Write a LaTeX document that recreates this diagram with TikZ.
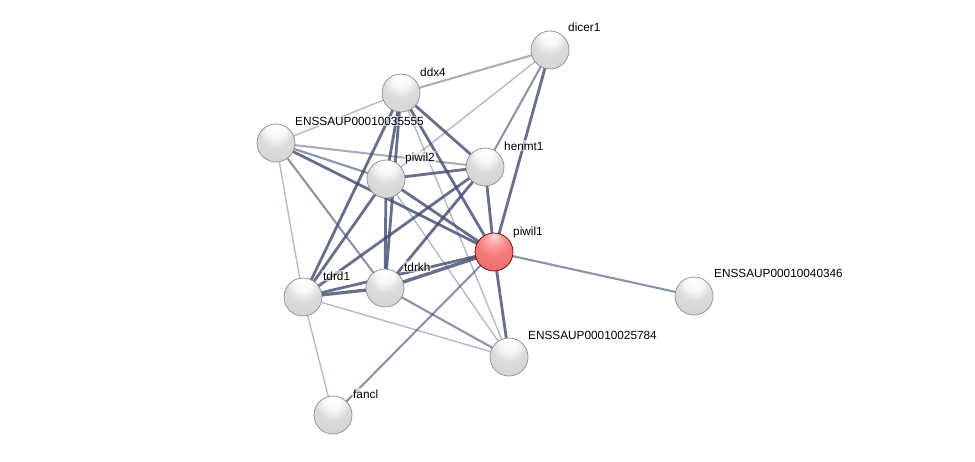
\documentclass[tikz,border=0pt]{standalone}
\usepackage{fontspec}
\setmainfont{Liberation Sans}
\usetikzlibrary{backgrounds}
\definecolor{edgec}{RGB}{65,75,110}
\pgfdeclareradialshading{graysph}{\pgfpoint{0bp}{22bp}}{%
 color(0bp)=(white); color(12bp)=(white!97!black); color(22bp)=(white!86!black);
 color(45bp)=(white!82!black); color(62bp)=(white!88!black); color(68bp)=(white!60!black); color(74bp)=(white!45!black)}
\pgfdeclareradialshading{redsph}{\pgfpoint{0bp}{22bp}}{%
 color(0bp)=(white!85!red); color(12bp)=(white!60!red); color(22bp)=(red!50!white!95!black);
 color(45bp)=(red!55!white!92!black); color(62bp)=(red!45!white); color(68bp)=(red!70!black); color(74bp)=(red!50!black)}
\tikzset{
 sph/.style={circle, minimum size=38pt, inner sep=0pt, shading=graysph, draw=black!45, line width=0.7pt},
 redball/.style={circle, minimum size=38pt, inner sep=0pt, shading=redsph, draw=red!40!black, line width=0.7pt},
 lab/.style={anchor=base west, inner sep=1pt, fill=white, fill opacity=0.55, text opacity=1, font=\fontsize{11.8}{13}\selectfont},
 eL/.style={draw=edgec, line width=1.4pt, draw opacity=0.38},
 eM/.style={draw=edgec, line width=2.1pt, draw opacity=0.6},
 eT/.style={draw=edgec, line width=2.8pt, draw opacity=0.8}
}
\begin{document}
\begin{tikzpicture}[x=1pt,y=-1pt]
\useasboundingbox (0,0) rectangle (975,461);
% nodes
\node[sph] (dicer1) at (550,50) {};
\node[sph] (ddx4) at (401,93) {};
\node[sph] (e355) at (276,143) {};
\node[sph] (piwil2) at (386,179) {};
\node[sph] (henmt1) at (485,167) {};
\node[redball] (piwil1) at (494,252) {};
\node[sph] (e346) at (694,296) {};
\node[sph] (tdrd1) at (303,297) {};
\node[sph] (tdrkh) at (385,288) {};
\node[sph] (e784) at (509,357) {};
\node[sph] (fancl) at (333,415) {};
% labels
\node[lab] (l1) at ([shift={(17,-19)}]dicer1.center) {dicer1};
\node[lab] (l2) at ([shift={(18,-17)}]ddx4.center) {ddx4};
\node[lab] (l3) at ([shift={(18,-18)}]e355.center) {ENSSAUP00010035555};
\node[lab] (l4) at ([shift={(18,-18)}]piwil2.center) {piwil2};
\node[lab] (l5) at ([shift={(18,-17)}]henmt1.center) {henmt1};
\node[lab] (l6) at ([shift={(18,-17)}]piwil1.center) {piwil1};
\node[lab] (l7) at ([shift={(19,-19)}]e346.center) {ENSSAUP00010040346};
\node[lab] (l8) at ([shift={(18,-18)}]e784.center) {ENSSAUP00010025784};
\node[lab] (l9) at ([shift={(19,-17)}]tdrd1.center) {tdrd1};
\node[lab] (l10) at ([shift={(18,-17)}]tdrkh.center) {tdrkh};
\node[lab] (l11) at ([shift={(19,-17)}]fancl.center) {fancl};
% edges
\begin{scope}[on background layer]
\fill[white] (0,0) rectangle (975,461);
\draw[eM, draw opacity=0.45] (dicer1.center) -- (ddx4.center);
\draw[eL] (dicer1.center) -- (piwil2.center);
\draw[eM] (dicer1.center) -- (henmt1.center);
\draw[eT] (dicer1.center) -- (piwil1.center);
\draw[eL] (ddx4.center) -- (e355.center);
\draw[eT] (ddx4.center) -- (henmt1.center);
\draw[eT] (ddx4.center) -- (piwil2.center);
\draw[eT] (ddx4.center) -- (tdrd1.center);
\draw[eT] (ddx4.center) -- (tdrkh.center);
\draw[eT] (ddx4.center) -- (piwil1.center);
\draw[eL] (ddx4.center) -- (e784.center);
\draw[eM, draw opacity=0.45] (e355.center) -- (henmt1.center);
\draw[eM] (e355.center) -- (piwil2.center);
\draw[eT] (e355.center) -- (piwil1.center);
\draw[eM] (e355.center) -- (tdrkh.center);
\draw[eL] (e355.center) -- (tdrd1.center);
\draw[eT] (piwil2.center) -- (henmt1.center);
\draw[eT] (piwil2.center) -- (piwil1.center);
\draw[eT] (piwil2.center) -- (tdrd1.center);
\draw[eT] (piwil2.center) -- (tdrkh.center);
\draw[eL] (piwil2.center) -- (e784.center);
\draw[eT] (henmt1.center) -- (piwil1.center);
\draw[eT] (henmt1.center) -- (tdrd1.center);
\draw[eT] (henmt1.center) -- (tdrkh.center);
\draw[eT, line width=3.4pt] (piwil1.center) -- (tdrkh.center);
\draw[eT] (piwil1.center) -- (tdrd1.center);
\draw[eM] (piwil1.center) -- (e346.center);
\draw[eT] (piwil1.center) -- (e784.center);
\draw[eM] (piwil1.center) -- (fancl.center);
\draw[eT, line width=3.2pt] (tdrd1.center) -- (tdrkh.center);
\draw[eL] (tdrd1.center) -- (e784.center);
\draw[eL] (tdrd1.center) -- (fancl.center);
\draw[eM] (tdrkh.center) -- (e784.center);
\end{scope}
\end{tikzpicture}
\end{document}
